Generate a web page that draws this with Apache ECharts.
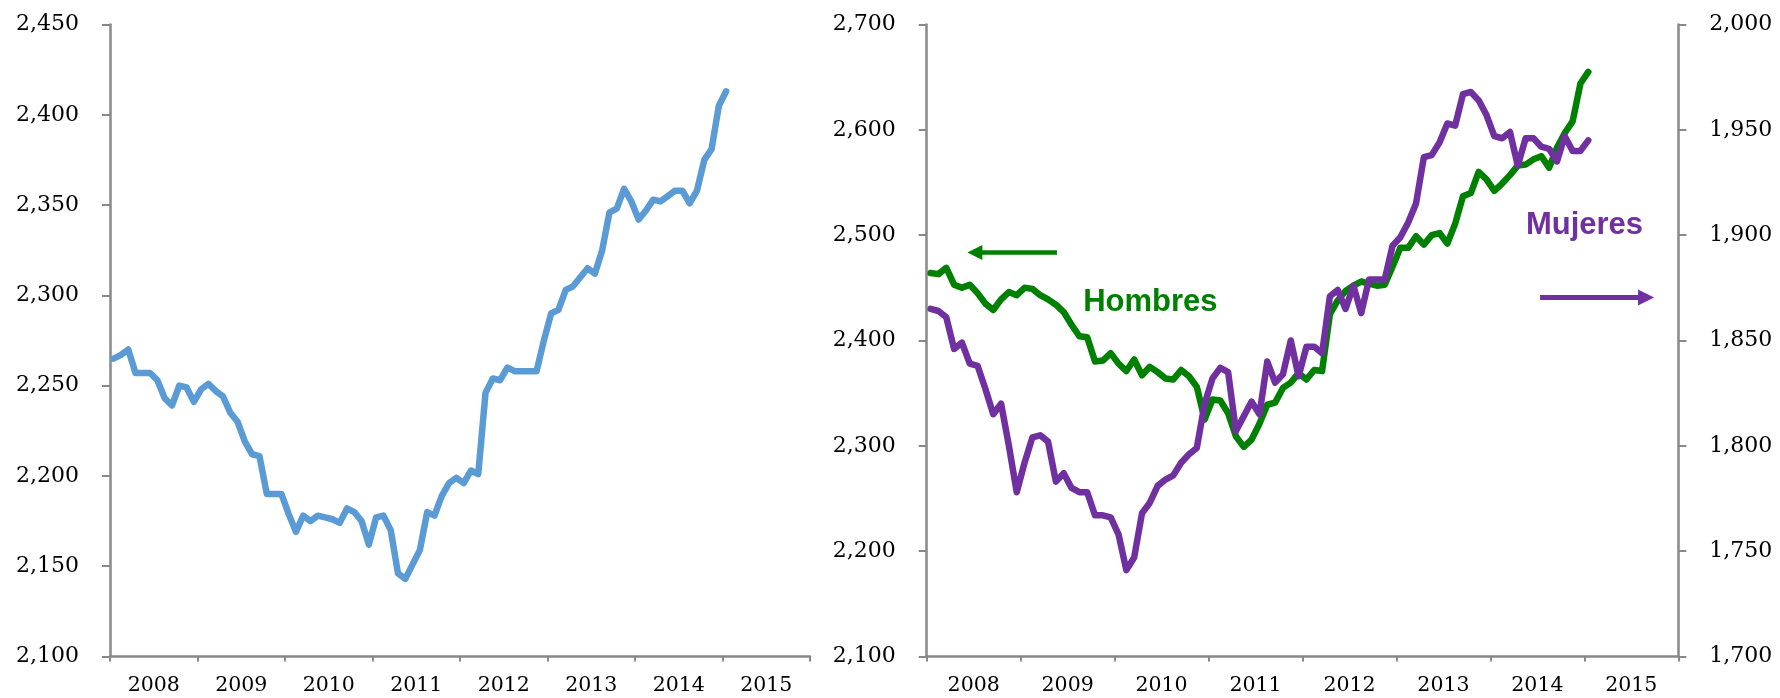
<!DOCTYPE html>
<html>
<head>
<meta charset="utf-8">
<script src="https://cdn.jsdelivr.net/npm/echarts@6/dist/echarts.min.js"></script>
<style>
  html, body { margin: 0; padding: 0; background: #fff; }
  #chart { width: 1780px; height: 698px; }
</style>
</head>
<body>
<div id="chart"></div>
<script>
// ejes: un rótulo por año, series mensuales desde ene-2008
var years = ['2008', '2009', '2010', '2011', '2012', '2013', '2014', '2015'];
var monthsPerYear = 12;

// total (miles), ene-2008 .. ene-2015
var total = [2265, 2267, 2270, 2257, 2257, 2257, 2253, 2243, 2239, 2250,
  2249, 2241, 2248, 2251, 2247, 2244, 2235, 2230, 2219, 2212,
  2211, 2190, 2190, 2190, 2179, 2169, 2178, 2175, 2178, 2177,
  2176, 2174, 2182, 2180, 2175, 2162, 2177, 2178, 2170, 2146,
  2143, 2151, 2159, 2180, 2178, 2189, 2196, 2199, 2196, 2203,
  2201, 2246, 2254, 2253, 2260, 2258, 2258, 2258, 2258, 2275,
  2290, 2292, 2303, 2305, 2310, 2315, 2312, 2325, 2346, 2348,
  2359, 2352, 2342, 2347, 2353, 2352, 2355, 2358, 2358, 2351,
  2358, 2375, 2381, 2405, 2413];

// hombres (eje izquierdo)
var hombres = [2464, 2463, 2469, 2453, 2450, 2453, 2445, 2435, 2429, 2439,
  2446, 2443, 2450, 2449, 2443, 2439, 2434, 2427, 2415, 2404,
  2403, 2380, 2381, 2388, 2378, 2371, 2382, 2367, 2375, 2370,
  2364, 2363, 2372, 2366, 2356, 2325, 2344, 2343, 2331, 2309,
  2299, 2306, 2321, 2339, 2341, 2355, 2360, 2369, 2363, 2372,
  2371, 2425, 2438, 2447, 2452, 2456, 2454, 2452, 2453, 2470,
  2488, 2488, 2499, 2491, 2500, 2502, 2492, 2511, 2537, 2540,
  2560, 2553, 2542, 2549, 2557, 2566, 2567, 2572, 2575, 2564,
  2583, 2597, 2608, 2644, 2655];

// mujeres (eje derecho)
var mujeres = [1865, 1864, 1861, 1846, 1849, 1839, 1838, 1827, 1815, 1820,
  1800, 1778, 1792, 1804, 1805, 1802, 1783, 1787, 1780, 1778,
  1778, 1767, 1767, 1766, 1758, 1741, 1747, 1768, 1773, 1781,
  1784, 1786, 1792, 1796, 1799, 1820, 1832, 1837, 1835, 1807,
  1814, 1821, 1815, 1840, 1830, 1834, 1850, 1833, 1847, 1847,
  1844, 1871, 1874, 1865, 1876, 1863, 1879, 1879, 1879, 1895,
  1899, 1906, 1915, 1937, 1938, 1944, 1953, 1952, 1967, 1968,
  1964, 1957, 1947, 1946, 1949, 1933, 1946, 1946, 1942, 1941,
  1935, 1947, 1940, 1940, 1945];

var AXIS = '#888888';
var SERIF = 'DejaVu Serif';
var SANS = 'Liberation Sans';
var nMonths = years.length * monthsPerYear;

function conComas(v) {
  return String(v).replace(/\B(?=(\d{3})+(?!\d))/g, ',');
}

// cada mes se dibuja en el centro de su hueco
function mensual(arr) {
  return arr.map(function (v, i) { return [i + 0.5, v]; });
}

function ejeAnios(grid) {
  return {
    gridIndex: grid,
    type: 'category',
    data: years,
    boundaryGap: true,
    position: 'bottom',
    axisLine: { lineStyle: { color: AXIS, width: 2.5 } },
    axisTick: { show: true, interval: 0, length: 5, lineStyle: { color: AXIS, width: 2 } },
    axisLabel: { interval: 0, margin: 19, fontSize: 20.5, fontFamily: SERIF, color: '#000' },
    splitLine: { show: false }
  };
}

function ejeMeses(grid) {
  return { gridIndex: grid, type: 'value', min: 0, max: nMonths, show: false };
}

function ejeValor(grid, min, max, step, pos) {
  return {
    gridIndex: grid,
    type: 'value',
    position: pos,
    min: min,
    max: max,
    interval: step,
    axisLine: { show: true, lineStyle: { color: AXIS, width: 2.5 } },
    axisTick: { show: true, length: 8, lineStyle: { color: AXIS, width: 2 } },
    axisLabel: {
      margin: 31, fontSize: 22, fontFamily: SERIF, color: '#000',
      formatter: conComas
    },
    splitLine: { show: false }
  };
}

var myChart = echarts.init(document.getElementById('chart'));

var option = {
  animation: false,
  backgroundColor: '#fff',
  grid: [
    { left: 110, top: 24.5, width: 700, height: 632 },
    { left: 926.7, top: 24.5, width: 751.6, height: 632 }
  ],
  xAxis: [ejeAnios(0), ejeMeses(0), ejeAnios(1), ejeMeses(1)],
  yAxis: [
    ejeValor(0, 2100, 2450, 50, 'left'),
    ejeValor(1, 2100, 2700, 100, 'left'),
    ejeValor(1, 1700, 2000, 50, 'right')
  ],
  series: [
    {
      name: 'Total',
      type: 'line',
      xAxisIndex: 1,
      yAxisIndex: 0,
      data: mensual(total),
      showSymbol: false,
      lineStyle: { color: '#5B9BD5', width: 6.5, cap: 'round', join: 'round' }
    },
    {
      name: 'Hombres',
      type: 'line',
      xAxisIndex: 3,
      yAxisIndex: 1,
      data: mensual(hombres),
      showSymbol: false,
      lineStyle: { color: '#008000', width: 6.5, cap: 'round', join: 'round' },
      markLine: {
        silent: true,
        symbol: ['none', 'triangle'],
        symbolSize: [15, 15],
        lineStyle: { color: '#008000', width: 4.5, type: 'solid' },
        label: { show: false },
        data: [[{ coord: [16.64, 2483.5] }, { coord: [6.15, 2483.5] }]]
      },
      markPoint: {
        silent: true,
        symbol: 'rect',
        symbolSize: 1,
        itemStyle: { color: 'rgba(0,0,0,0)' },
        label: {
          show: true, position: 'inside', formatter: 'Hombres',
          color: '#008000', fontSize: 31, fontWeight: 'bold', fontFamily: SANS
        },
        data: [{ coord: [28.57, 2436.2] }]
      }
    },
    {
      name: 'Mujeres',
      type: 'line',
      xAxisIndex: 3,
      yAxisIndex: 2,
      data: mensual(mujeres),
      showSymbol: false,
      lineStyle: { color: '#7030A0', width: 6.5, cap: 'round', join: 'round' },
      markLine: {
        silent: true,
        symbol: ['none', 'triangle'],
        symbolSize: [16, 16],
        lineStyle: { color: '#7030A0', width: 5, type: 'solid' },
        label: { show: false },
        data: [[{ coord: [78.34, 1870.4] }, { coord: [91.88, 1870.4] }]]
      },
      markPoint: {
        silent: true,
        symbol: 'rect',
        symbolSize: 1,
        itemStyle: { color: 'rgba(0,0,0,0)' },
        label: {
          show: true, position: 'inside', formatter: 'Mujeres',
          color: '#7030A0', fontSize: 31, fontWeight: 'bold', fontFamily: SANS
        },
        data: [{ coord: [84.02, 1904.4] }]
      }
    }
  ]
};

myChart.setOption(option);
</script>
</body>
</html>
